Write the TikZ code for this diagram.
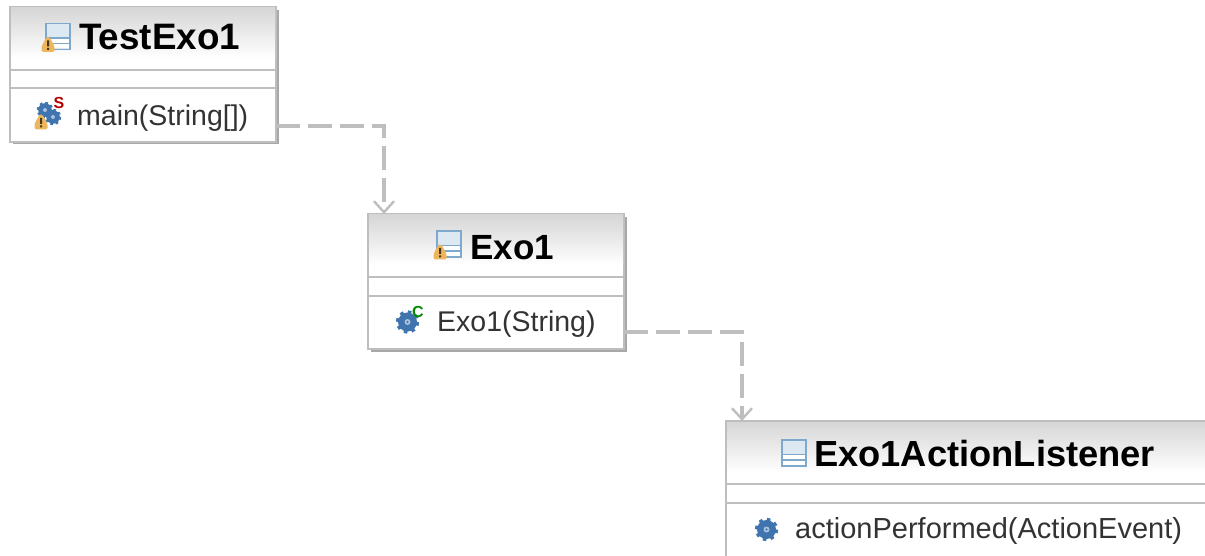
\documentclass[tikz,border=0pt]{standalone}
\usepackage{fontspec}
\setmainfont{Liberation Sans}
\usetikzlibrary{arrows.meta,calc}
\definecolor{edge}{HTML}{BEBEBE}
\definecolor{shadowc}{HTML}{A8A8A8}
\definecolor{headc}{HTML}{D6D6D6}
\definecolor{iconb}{HTML}{7FA9CC}
\definecolor{iconf}{HTML}{DCE8F2}
\definecolor{gearc}{HTML}{3F74AE}
\definecolor{warnc}{HTML}{EDB65C}
\tikzset{
  x=1pt,y=-1pt,
  classbox/.style={rectangle,anchor=north west,inner sep=0,outer sep=0,fill=white},
  titletext/.style={font=\fontsize{#1}{#1}\selectfont\bfseries,text=black,inner sep=0,anchor=base west},
  membertext/.style={font=\fontsize{#1}{#1}\selectfont,text=black!80,inner sep=0,anchor=base west},
  sep/.style={draw=edge,line width=1.6pt},
  dep/.style={draw=edge,line width=3.2pt,dash pattern=on 24pt off 8pt,
     -{Straight Barb[length=11pt,width=20pt,line width=2.4pt,color=edge]}},
  pics/classicon/.style={code={
    \draw[draw=iconb,fill=iconf,line width=1.6pt] (-12,-13) rectangle (12,13);
    \fill[white] (-11,2) rectangle (11,12);
    \draw[draw=iconb,line width=1.6pt] (-12,1.5) -- (12,1.5) (-12,7) -- (12,7);
  }},
  pics/warn/.style={code={
    \fill[warnc,rounded corners=1.5pt] (-1.5,-7.5) -- (1.5,-7.5) -- (6.5,2) -- (6.5,7.5) -- (-6.5,7.5) -- (-6.5,2) -- cycle;
    \fill[black!70!warnc] (-1,-4) rectangle (1,2) (-1,3.5) rectangle (1,5.5);
  }},
  pics/gear/.style={code={
    \draw[gearc,line width=3.5pt,dash pattern=on 3.6pt off 4.25pt] (0,0) circle (10);
    \fill[gearc] (0,0) circle (9.5);
    \fill[white!55!gearc] (0,0) circle (3);
    \fill[gearc] (0,0) circle (1.2);
  }},
  pics/smallgear/.style={code={
    \draw[gearc,line width=2.5pt,dash pattern=on 2.6pt off 2.9pt] (0,0) circle (7);
    \fill[gearc] (0,0) circle (6.8);
    \fill[white!55!gearc] (0,0) circle (2);
  }}
}
\begin{document}
\begin{tikzpicture}
\useasboundingbox (0,0) rectangle (1205,556);
\fill[white] (0,0) rectangle (1205,556);

% ---- TestExo1
\fill[shadowc] (13,10) rectangle (278.5,144.5);
\node[classbox,minimum width=266pt,minimum height=135pt,draw=edge,line width=1.4pt] (b1) at (10,7) {};
\shade[top color=headc,bottom color=white] (11,8) rectangle (275,58);
\draw[sep] (10,70) -- (276,70);
\draw[sep] (10,88) -- (276,88);
\pic at (58,36.5) {classicon};
\pic at (48,44.5) {warn};
\node[titletext=36.8] (t1) at (79,50) {TestExo1};
\pic at (45,110) {smallgear};
\pic at (53,117) {smallgear};
\pic at (41,122) {warn};
\node[font=\fontsize{16}{16}\selectfont\bfseries,text=red!70!black,inner sep=0] (s1) at (59,103) {S};
\node[membertext=28.5] (m1) at (77,126) {main(String[])};

% ---- Exo1
\fill[shadowc] (371,217) rectangle (626.5,351.5);
\node[classbox,minimum width=256pt,minimum height=135pt,draw=edge,line width=1.4pt] (b2) at (368,214) {};
\shade[top color=headc,bottom color=white] (369,215) rectangle (623,265);
\draw[sep] (368,277) -- (624,277);
\draw[sep] (368,296) -- (624,296);
\pic at (449,244) {classicon};
\pic at (440,252) {warn};
\node[titletext=35] (t2) at (470,259) {Exo1};
\pic at (407.5,322) {gear};
\node[font=\fontsize{16}{16}\selectfont\bfseries,text=green!55!black,inner sep=0] (s2) at (418,312) {C};
\node[membertext=28.5] (m2) at (437,331) {Exo1(String)};

% ---- Exo1ActionListener
\node[classbox,minimum width=479pt,minimum height=135pt] (b3) at (726,421) {};
\shade[top color=headc,bottom color=white] (727,422) rectangle (1205,472);
\draw[draw=edge,line width=1.4pt] (b3.south west) -- (b3.north west) -- (b3.north east);
\draw[sep] (726,484) -- (1205,484);
\draw[sep] (726,503) -- (1205,503);
\pic at (794,453) {classicon};
\node[titletext=36.3] (t3) at (814,466) {Exo1ActionListener};
\pic at (766.5,529.5) {gear};
\node[membertext=29] (m3) at (795,538) {actionPerformed(ActionEvent)};

% ---- dependencies
\coordinate (c1) at (b1.east |- 0,126);
\coordinate (c2) at (b2.east |- 0,332);
\draw[dep] (c1) -| (b2.north west -| 384,0);
\draw[dep] (c2) -| (b3.north west -| 742,0);
\end{tikzpicture}
\end{document}
